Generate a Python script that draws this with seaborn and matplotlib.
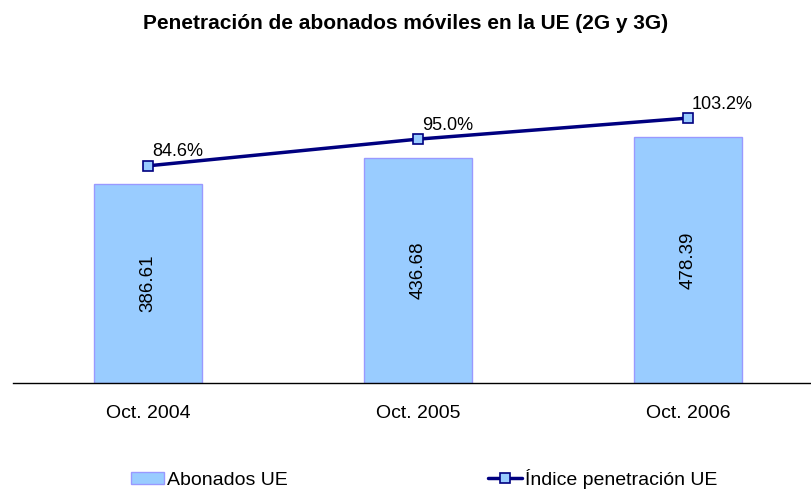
import numpy as np
import pandas as pd
import seaborn as sns
import matplotlib.pyplot as plt

# Data
periods = ['Oct. 2004', 'Oct. 2005', 'Oct. 2006']
abonados = [386.61, 436.68, 478.39]
penetracion = [84.6, 95.0, 103.2]

df = pd.DataFrame({'periodo': periods, 'abonados': abonados, 'penetracion': penetracion})

sns.set_style('white')
plt.rcParams['font.family'] = ['Liberation Sans', 'DejaVu Sans']
plt.rcParams['text.color'] = 'black'
plt.rcParams['xtick.color'] = 'black'

fig = plt.figure(figsize=(8.11, 4.92), dpi=100)
ax = fig.add_axes([13 / 811, 1 - 383 / 492, 798 / 811, 313 / 492])

sns.barplot(data=df, x='periodo', y='abonados', ax=ax, color='#99CCFF',
            edgecolor='#9999FF', linewidth=1, width=0.4, saturation=1,
            label='Abonados UE')
ax.set_xlim(-0.5, 2.456)
ax.set_ylim(0, 313 * 1.945)

for i, v in enumerate(abonados):
    ax.text(i, v / 2, f'{v:.2f}', rotation=90, ha='center', va='center',
            fontsize=13.5, color='black')

ax2 = ax.twinx()
sns.lineplot(x=np.arange(len(periods)), y=penetracion, ax=ax2, color='#000080',
             linewidth=2.5, marker='s', markersize=7, markerfacecolor='#99CCFF',
             markeredgecolor='#000080', markeredgewidth=1.2,
             label='Índice penetración UE')
ax2.set_ylim(0, 313 / 2.567)
for i, v in enumerate(penetracion):
    ax2.annotate(f'{v:.1f}%', (i, v), xytext=(3, 4), textcoords='offset points',
                 ha='left', va='bottom', fontsize=13, color='black')

for a in (ax, ax2):
    for s in ['top', 'right', 'left']:
        a.spines[s].set_visible(False)
    a.set_yticks([])
    a.set_ylabel('')
ax2.spines['bottom'].set_visible(False)
ax.spines['bottom'].set_color('black')
ax.spines['bottom'].set_linewidth(1)
ax.set_xlabel('')
ax.tick_params(axis='x', length=0, labelsize=14, pad=16)

h1, l1 = ax.get_legend_handles_labels()
h2, l2 = ax2.get_legend_handles_labels()
if ax.get_legend():
    ax.get_legend().remove()
if ax2.get_legend():
    ax2.get_legend().remove()
fig.legend(h1 + h2, l1 + l2, loc='center', bbox_to_anchor=(0.523, 0.027), ncol=2,
           frameon=False, fontsize=14, columnspacing=10.3, handlelength=1.7,
           handletextpad=0.2, handleheight=0.6)

fig.suptitle('Penetración de abonados móviles en la UE (2G y 3G)', fontsize=15,
             fontweight='bold', y=0.972)

fig.savefig('out.png', dpi=100)
